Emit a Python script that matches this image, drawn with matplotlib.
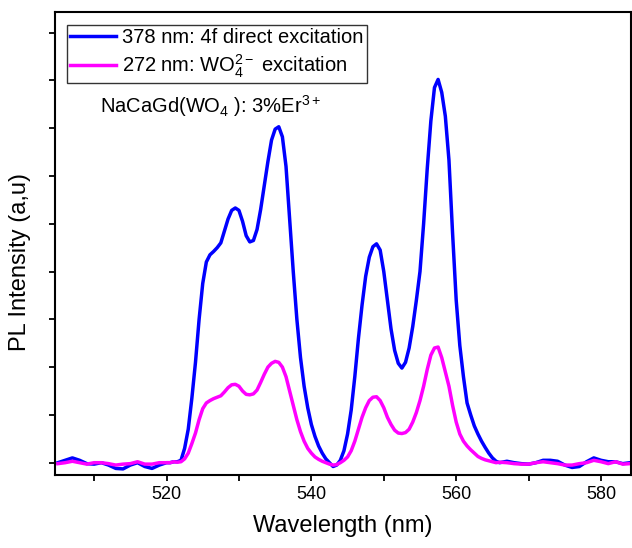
import matplotlib
matplotlib.use("Agg")
import matplotlib.pyplot as plt
from matplotlib.ticker import MultipleLocator, NullFormatter

plt.rcParams['font.family'] = ['Liberation Sans', 'DejaVu Sans']
plt.rcParams['mathtext.fontset'] = 'custom'
plt.rcParams['mathtext.rm'] = 'Liberation Sans'
plt.rcParams['mathtext.it'] = 'Liberation Sans:italic'

blue_color = "#0000ff"
magenta_color = "#ff00ff"

# wavelength grid (nm): coarse on the flat baseline, finer over the emission bands
wl = [505, 506, 507, 508, 509, 510, 511, 512, 513, 514, 515, 516, 517, 518, 519, 520,
      520.5, 521, 521.5, 522, 522.5, 523, 523.5, 524, 524.5, 525, 525.5, 526, 526.5,
      527, 527.5, 528, 528.5, 529, 529.5, 530, 530.5, 531, 531.5, 532, 532.5, 533,
      533.5, 534, 534.5, 535, 535.5, 536, 536.5, 537, 537.5, 538, 538.5, 539, 539.5,
      540, 540.5, 541, 541.5, 542, 542.5, 543, 543.5, 544, 544.5, 545, 545.5, 546,
      546.5, 547, 547.5, 548, 548.5, 549, 549.5, 550, 550.5, 551, 551.5, 552, 552.5,
      553, 553.5, 554, 554.5, 555, 555.5, 556, 556.5, 557, 557.5, 558, 558.5, 559,
      559.5, 560, 560.5, 561, 561.5, 562, 562.5, 563, 563.5, 564, 564.5, 565, 565.5,
      566, 567, 568, 569, 570, 571, 572, 573, 574, 575, 576, 577, 578, 579, 580, 581,
      582, 583, 584]

# 378 nm excitation (4f direct)
pl_378 = [0.0, 0.05, 0.1, 0.05, -0.02, -0.03, 0.0, -0.05, -0.12, -0.13, -0.05, 0.0, -0.08, -0.12, -0.05, 0.0,
          0.0, 0.02, 0.02, 0.05, 0.3, 0.7, 1.35, 2.1, 3.0, 3.75, 4.2, 4.35, 4.42,
          4.5, 4.6, 4.85, 5.1, 5.28, 5.33, 5.28, 5.05, 4.75, 4.62, 4.65, 4.88, 5.3,
          5.8, 6.3, 6.75, 6.98, 7.03, 6.82, 6.2, 5.1, 4.0, 3.0, 2.2, 1.6, 1.15,
          0.8, 0.55, 0.35, 0.2, 0.08, 0.0, -0.08, -0.05, 0.05, 0.25, 0.6, 1.1, 1.8,
          2.6, 3.3, 3.9, 4.3, 4.52, 4.58, 4.45, 4.0, 3.4, 2.8, 2.35, 2.08, 1.98,
          2.1, 2.4, 2.85, 3.4, 4.0, 5.0, 6.15, 7.15, 7.85, 8.02, 7.75, 7.25, 6.33,
          4.8, 3.4, 2.45, 1.8, 1.25, 1.0, 0.77, 0.6, 0.45, 0.32, 0.2, 0.1, 0.03,
          0.0, 0.03, 0.0, -0.02, -0.03, 0.0, 0.05, 0.05, 0.03, -0.05, -0.1, -0.08, 0.02, 0.1, 0.05, 0.02,
          0.02, -0.02, 0.0]

# 272 nm excitation (WO4 2- host)
pl_272 = [-0.02, 0.0, 0.03, 0.0, -0.03, 0.0, 0.0, -0.02, -0.05, -0.03, -0.02, 0.02, -0.03, -0.03, 0.0, 0.0,
          0.0, 0.02, 0.01, 0.02, 0.08, 0.2, 0.4, 0.62, 0.9, 1.13, 1.25, 1.3, 1.34,
          1.37, 1.4, 1.48, 1.57, 1.63, 1.64, 1.6, 1.5, 1.43, 1.42, 1.44, 1.52, 1.68,
          1.85, 2.0, 2.08, 2.12, 2.1, 2.0, 1.8, 1.5, 1.2, 0.9, 0.65, 0.45, 0.3,
          0.2, 0.12, 0.07, 0.03, 0.0, -0.03, -0.05, -0.04, 0.0, 0.05, 0.12, 0.25, 0.45,
          0.7, 0.95, 1.15, 1.3, 1.37, 1.38, 1.3, 1.15, 0.95, 0.8, 0.68, 0.62, 0.61,
          0.63, 0.7, 0.85, 1.05, 1.3, 1.6, 1.95, 2.25, 2.4, 2.42, 2.2, 1.9, 1.6,
          1.2, 0.85, 0.6, 0.45, 0.35, 0.27, 0.2, 0.13, 0.09, 0.06, 0.04, 0.02, 0.0,
          0.01, 0.0, -0.02, -0.03, -0.03, 0.0, 0.02, 0.0, -0.02, -0.05, -0.05, -0.02, 0.0, 0.05, 0.02, -0.02,
          0.02, -0.03, -0.02]

fig = plt.figure(figsize=(6.32, 5.48), dpi=100)
ax = fig.add_axes([0.087, 0.133, 0.911, 0.845])

ax.plot(wl, pl_378, color=blue_color, lw=2.5, label="378 nm: 4f direct excitation")
ax.plot(wl, pl_272, color=magenta_color, lw=2.5,
        label=r"272 nm: WO$\mathregular{_4^{2-}}$ excitation")

ax.set_xlim(504.6, 584.1)
ax.set_ylim(-0.26, 9.43)

ax.xaxis.set_major_locator(MultipleLocator(20))
ax.xaxis.set_minor_locator(MultipleLocator(10))
ax.yaxis.set_major_locator(MultipleLocator(1))
ax.yaxis.set_major_formatter(NullFormatter())
ax.tick_params(which="both", direction="out", length=4, width=1.3, labelsize=13)

for s in ax.spines.values():
    s.set_linewidth(1.5)

ax.set_xlabel("Wavelength (nm)", fontsize=17, labelpad=9)
ax.set_ylabel("PL Intensity (a,u)", fontsize=17)
ax.yaxis.set_label_coords(-0.042, 0.46)

leg = ax.legend(loc="upper left", bbox_to_anchor=(0.021, 0.973), fontsize=14.5,
                frameon=True, fancybox=False, edgecolor="black", borderpad=0.15,
                handlelength=2.3, handletextpad=0.3, labelspacing=0.3, borderaxespad=0)
leg.get_frame().set_linewidth(1.0)

ax.text(0.078, 0.797, r"NaCaGd(WO$\mathregular{_4}$ ): 3%Er$\mathregular{^{3+}}$",
        transform=ax.transAxes, fontsize=14.5, ha="left", va="center")

fig.savefig("out.png", dpi=100)
